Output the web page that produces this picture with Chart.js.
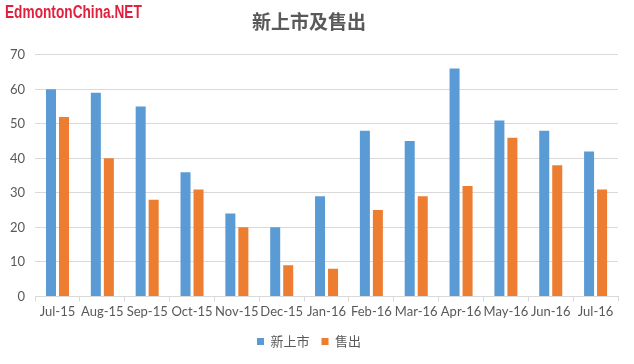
<!DOCTYPE html>
<html>
<head>
<meta charset="utf-8">
<script src="https://cdn.jsdelivr.net/npm/chart.js@4/dist/chart.umd.min.js"></script>
<style>
  html, body { margin: 0; padding: 0; background: #fff; }
  #wrap { position: relative; width: 634px; height: 364px; }
</style>
</head>
<body>
<div id="wrap"><canvas id="chart" width="634" height="364"></canvas></div>
<script>
// 月份
const months = ['Jul-15', 'Aug-15', 'Sep-15', 'Oct-15', 'Nov-15', 'Dec-15', 'Jan-16',
  'Feb-16', 'Mar-16', 'Apr-16', 'May-16', 'Jun-16', 'Jul-16'];
// 新上市
const listed = [60, 59, 55, 36, 24, 20, 29, 48, 45, 66, 51, 48, 42];
// 售出
const sold = [52, 40, 28, 31, 20, 9, 8, 25, 29, 32, 46, 38, 31];

const textColor = '#595959';
const gridColor = '#D9D9D9';

// 左上角水印（横向压缩）
const watermark = {
  id: 'watermark',
  afterDraw(chart) {
    const ctx = chart.ctx;
    ctx.save();
    ctx.translate(5, 4);
    ctx.scale(0.76, 1);
    ctx.font = 'bold 18px "Liberation Sans", sans-serif';
    ctx.fillStyle = '#E21F3C';
    ctx.textBaseline = 'top';
    ctx.fillText('EdmontonChina.NET', 0, 0);
    ctx.restore();
  }
};

new Chart(document.getElementById('chart'), {
  type: 'bar',
  data: {
    labels: months,
    datasets: [
      { label: '新上市', data: listed, backgroundColor: '#5B9BD5' },
      { label: '售出', data: sold, backgroundColor: '#ED7D31' }
    ]
  },
  options: {
    responsive: false,
    animation: false,
    datasets: { bar: { categoryPercentage: 0.58, barPercentage: 0.77 } },
    layout: { padding: { left: 0, right: 16, top: 4, bottom: 6 } },
    plugins: {
      title: {
        display: true,
        text: '新上市及售出',
        color: textColor,
        font: { family: '"Noto Sans CJK SC", sans-serif', size: 19, weight: 'bold' },
        padding: { top: 6, bottom: 22 }
      },
      legend: {
        position: 'bottom',
        labels: {
          color: textColor,
          font: { family: '"Noto Sans CJK SC", sans-serif', size: 13 },
          boxWidth: 7, boxHeight: 7, padding: 12
        }
      },
      tooltip: { enabled: false }
    },
    scales: {
      x: {
        grid: { offset: true, drawOnChartArea: false, tickLength: 5, color: gridColor },
        border: { color: gridColor },
        ticks: { color: textColor, font: { family: 'Lato, sans-serif', size: 13 }, maxRotation: 0, autoSkip: false }
      },
      y: {
        min: 0, max: 70,
        grid: { color: gridColor, drawTicks: false },
        border: { display: false },
        ticks: { stepSize: 10, color: textColor, padding: 10, font: { family: 'Lato, sans-serif', size: 13 } }
      }
    }
  },
  plugins: [watermark]
});
</script>
</body>
</html>
